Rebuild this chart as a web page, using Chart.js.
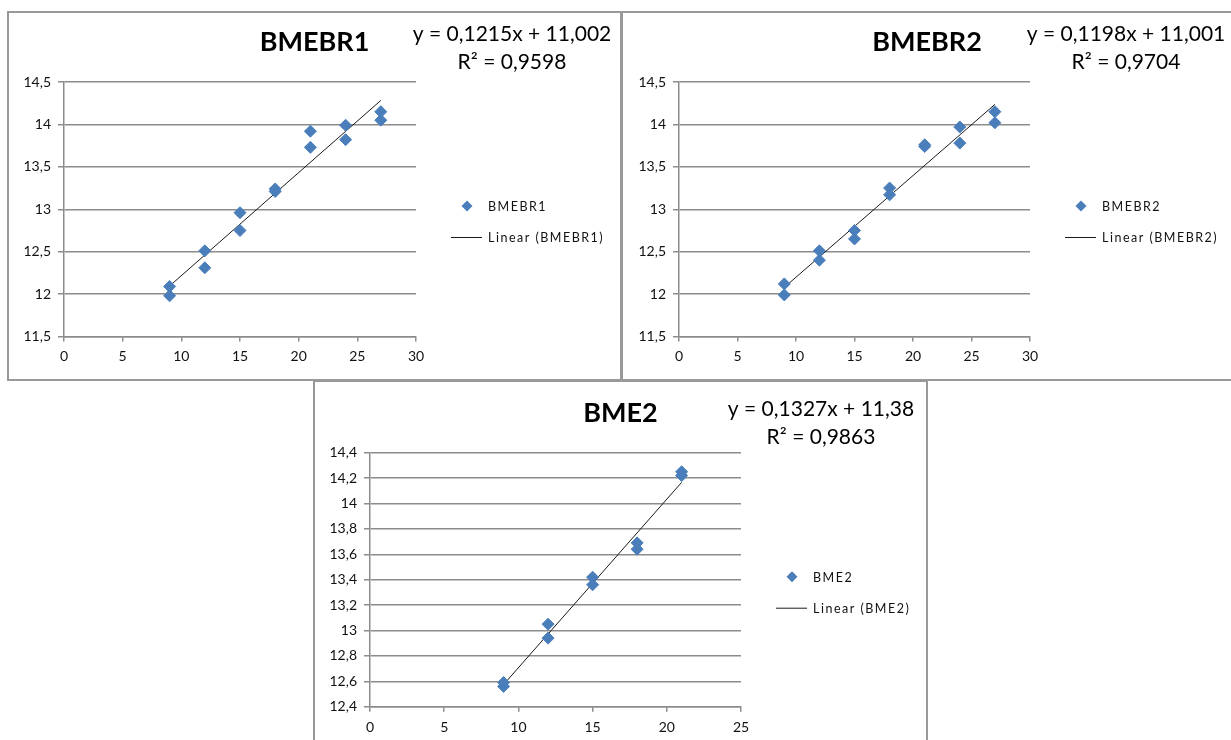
<!DOCTYPE html>
<html>
<head>
<meta charset="utf-8">
<script src="https://cdn.jsdelivr.net/npm/chart.js"></script>
<style>
  html, body { margin: 0; padding: 0; background: #fff; width: 1231px; height: 740px; overflow: hidden; }
  .box { position: absolute; box-sizing: border-box; border: 2px solid #999; background: #fff; }
  .box canvas { display: block; }
  #b1 { left: 7px; top: 11px; width: 615px; height: 370px; }
  #b2 { left: 621px; top: 11px; width: 612px; height: 370px; }
  #b3 { left: 313px; top: 380px; width: 615px; height: 370px; }
</style>
</head>
<body>
<div class="box" id="b1"><canvas id="c1" width="611" height="366"></canvas></div>
<div class="box" id="b2"><canvas id="c2" width="608" height="366"></canvas></div>
<div class="box" id="b3"><canvas id="c3" width="611" height="366"></canvas></div>
<script>
// x values (same dosing steps for the two BMEBR series)
const xsBR = [9, 9, 12, 12, 15, 15, 18, 18, 21, 21, 24, 24, 27, 27];
const ysBMEBR1 = [12.09, 11.98, 12.51, 12.31, 12.96, 12.75, 13.24, 13.21, 13.92, 13.73, 13.99, 13.82, 14.15, 14.05];
const ysBMEBR2 = [12.12, 11.99, 12.51, 12.40, 12.75, 12.65, 13.25, 13.17, 13.76, 13.74, 13.97, 13.78, 14.15, 14.02];

const xsBME2 = [9, 9, 12, 12, 15, 15, 18, 18, 21, 21];
const ysBME2 = [12.59, 12.56, 13.05, 12.94, 13.42, 13.36, 13.69, 13.64, 14.25, 14.22];

// trendline coefficients as printed on the charts: [slope, intercept]
const fitBMEBR1 = [0.1215, 11.002];
const fitBMEBR2 = [0.1198, 11.001];
const fitBME2 = [0.1327, 11.38];

const xTicksBR = [0, 5, 10, 15, 20, 25, 30];
const yTicksBR = [11.5, 12, 12.5, 13, 13.5, 14, 14.5];
const xTicksBME2 = [0, 5, 10, 15, 20, 25];
const yTicksBME2 = [12.4, 12.6, 12.8, 13, 13.2, 13.4, 13.6, 13.8, 14, 14.2, 14.4];

const BLUE = "#4A7EBB";
const GRID = "#8c8c8c";
const comma = (v) => String(v).replace(".", ",");

Chart.defaults.font.family = "Lato";
Chart.defaults.color = "#111";

// Excel-like trendline label and right-hand legend
const excelExtras = {
  id: "excelExtras",
  afterDraw: (chart, args, opts) => {
    const { ctx, chartArea: a } = chart;
    const pts = chart.data.datasets[0];
    const fit = chart.data.datasets[1];
    ctx.save();
    ctx.fillStyle = "#000";
    ctx.textAlign = "center";
    ctx.textBaseline = "middle";
    ctx.font = "21px Lato";
    ctx.fillText(opts.eq, opts.eqX, opts.eqY);
    ctx.fillText(opts.r2, opts.eqX, opts.r2Y);

    const y1 = a.top + 124, y2 = a.top + 155;
    const cx = a.right + 51, r = 5.5;
    ctx.fillStyle = pts.backgroundColor;
    ctx.beginPath();
    ctx.moveTo(cx, y1 - r);
    ctx.lineTo(cx + r, y1);
    ctx.lineTo(cx, y1 + r);
    ctx.lineTo(cx - r, y1);
    ctx.closePath();
    ctx.fill();

    ctx.strokeStyle = fit.borderColor;
    ctx.lineWidth = 1;
    ctx.beginPath();
    ctx.moveTo(a.right + 35, y2 + 0.5);
    ctx.lineTo(a.right + 66, y2 + 0.5);
    ctx.stroke();

    ctx.fillStyle = "#111";
    ctx.textAlign = "left";
    ctx.font = "12.5px Lato";
    ctx.letterSpacing = "1.5px";
    ctx.fillText(pts.label, a.right + 72, y1 + 1);
    ctx.fillText(fit.label, a.right + 72, y2 + 1);
    ctx.restore();
  },
};

function makeChart(id, o) {
  const lo = Math.min(...o.xs), hi = Math.max(...o.xs);
  return new Chart(document.getElementById(id), {
    type: "scatter",
    data: {
      datasets: [
        {
          label: o.name,
          data: o.xs.map((x, i) => ({ x, y: o.ys[i] })),
          xAxisID: "x",
          yAxisID: "y",
          pointStyle: "rectRot",
          pointRadius: 6,
          pointHoverRadius: 6,
          backgroundColor: BLUE,
          borderColor: BLUE,
          borderWidth: 1,
        },
        {
          label: "Linear (" + o.name + ")",
          type: "line",
          data: [lo, hi].map((x) => ({ x, y: o.fit[0] * x + o.fit[1] })),
          xAxisID: "x",
          yAxisID: "y",
          borderColor: "#1a1a1a",
          borderWidth: 1,
          pointRadius: 0,
          fill: false,
        },
      ],
    },
    options: {
      responsive: false,
      animation: false,
      events: [],
      layout: { padding: 0 },
      plugins: {
        legend: { display: false },
        tooltip: { enabled: false },
        title: {
          display: true,
          text: o.name,
          color: "#000",
          font: { size: 27, weight: "bold" },
          padding: { top: o.titleTop, bottom: o.titleBottom },
        },
        excelExtras: o.label,
      },
      scales: {
        x: {
          type: "linear",
          min: o.xTicks[0],
          max: o.xTicks[o.xTicks.length - 1],
          afterBuildTicks: (s) => { s.ticks = o.xTicks.map((v) => ({ value: v })); },
          afterFit: (s) => { s.height = o.xAxisH; },
          grid: { drawOnChartArea: false, color: GRID, lineWidth: 1.5, tickLength: 5 },
          border: { color: GRID, width: 1.5 },
          ticks: { font: { size: 14 }, padding: 7, callback: comma },
        },
        y: {
          type: "linear",
          min: o.yTicks[0],
          max: o.yTicks[o.yTicks.length - 1],
          afterBuildTicks: (s) => { s.ticks = o.yTicks.map((v) => ({ value: v })); },
          afterFit: (s) => { s.width = o.yAxisW; },
          grid: { color: GRID, lineWidth: 1.5, tickLength: 6 },
          border: { color: GRID, width: 1.5 },
          ticks: { font: { size: 14 }, padding: 7, callback: comma },
        },
        // empty box on the right that leaves room for the legend
        spacer: {
          axis: "y",
          position: "right",
          display: true,
          grid: { display: false },
          border: { display: false },
          ticks: { display: false },
          afterFit: (s) => { s.width = o.spacer; },
        },
      },
    },
    plugins: [excelExtras],
  });
}

makeChart("c1", {
  name: "BMEBR1", xs: xsBR, ys: ysBMEBR1, fit: fitBMEBR1,
  xTicks: xTicksBR, yTicks: yTicksBR,
  titleTop: 13.3, titleBottom: 23.3, xAxisH: 42.5, yAxisW: 55, spacer: 204,
  label: { eq: "y = 0,1215x + 11,002", r2: "R² = 0,9598", eqX: 503, eqY: 21.5, r2Y: 49 },
});

makeChart("c2", {
  name: "BMEBR2", xs: xsBR, ys: ysBMEBR2, fit: fitBMEBR2,
  xTicks: xTicksBR, yTicks: yTicksBR,
  titleTop: 13.3, titleBottom: 23.3, xAxisH: 42.5, yAxisW: 56, spacer: 201,
  label: { eq: "y = 0,1198x + 11,001", r2: "R² = 0,9704", eqX: 503, eqY: 21.5, r2Y: 49 },
});

makeChart("c3", {
  name: "BME2", xs: xsBME2, ys: ysBME2, fit: fitBME2,
  xTicks: xTicksBME2, yTicks: yTicksBME2,
  titleTop: 15.3, titleBottom: 23, xAxisH: 41.3, yAxisW: 55, spacer: 185,
  label: { eq: "y = 0,1327x + 11,38", r2: "R² = 0,9863", eqX: 506, eqY: 27, r2Y: 55.5 },
});
</script>
</body>
</html>
